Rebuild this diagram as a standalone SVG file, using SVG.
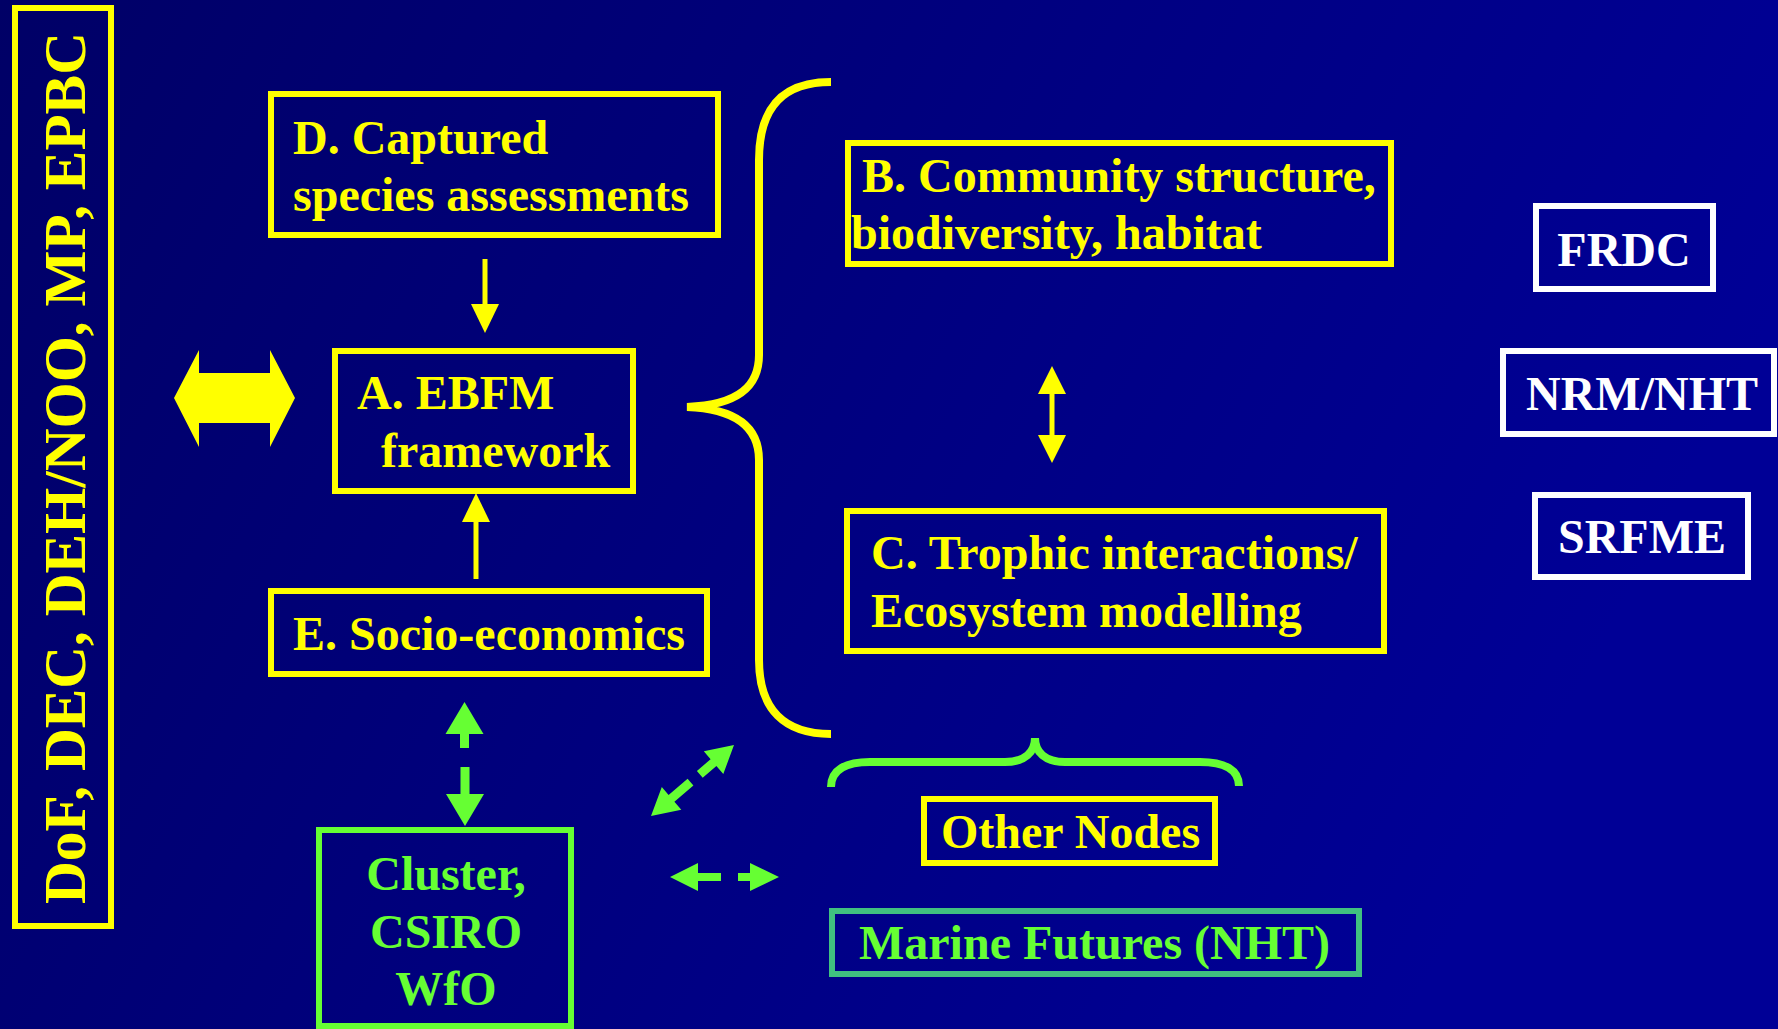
<svg xmlns="http://www.w3.org/2000/svg" width="1778" height="1029" viewBox="0 0 1778 1029">
<defs>
<linearGradient id="bg" x1="0" y1="0" x2="1" y2="0.3">
<stop offset="0" stop-color="#000066"/>
<stop offset="1" stop-color="#000096"/>
</linearGradient>
</defs>
<style>
.t{font-family:"Liberation Serif","Times New Roman",serif;font-weight:bold;font-size:48px}
.y{fill:#ffff00}
.g{fill:#66ff33}
.w{fill:#ffffff}
.by{fill:none;stroke:#ffff00;stroke-width:6}
.bg{fill:none;stroke:#66ff33;stroke-width:6}
.bw{fill:none;stroke:#ffffff;stroke-width:6}
.bt{fill:none;stroke:#40c080;stroke-width:6}
</style>
<rect x="0" y="0" width="1778" height="1029" fill="url(#bg)"/>

<g id="agencies">
<rect class="by" x="15" y="8" width="96" height="918"/>
<text class="t y" font-size="59" style="font-size:59px" transform="translate(85,904) rotate(-90)" textLength="872" lengthAdjust="spacingAndGlyphs">DoF, DEC, DEH/NOO, MP, EPBC</text>
</g>

<g id="nodeD">
<rect class="by" x="271" y="94" width="447" height="141"/>
<text class="t y" x="293" y="154">D. Captured</text>
<text class="t y" x="293" y="211">species assessments</text>
</g>

<g id="nodeA">
<rect class="by" x="335" y="351" width="298" height="140"/>
<text class="t y" x="357" y="409">A. EBFM</text>
<text class="t y" x="381" y="467">framework</text>
</g>

<g id="nodeE">
<rect class="by" x="271" y="591" width="436" height="83"/>
<text class="t y" x="293" y="650">E. Socio-economics</text>
</g>

<g id="nodeB">
<rect class="by" x="848" y="143" width="543" height="121"/>
<text class="t y" x="862" y="192">B. Community structure,</text>
<text class="t y" x="851" y="249">biodiversity, habitat</text>
</g>

<g id="nodeC">
<rect class="by" x="847" y="511" width="537" height="140"/>
<text class="t y" x="871" y="569">C. Trophic interactions/</text>
<text class="t y" x="871" y="627">Ecosystem modelling</text>
</g>

<g id="nodeFRDC">
<rect class="bw" x="1536" y="206" width="177" height="83"/>
<text class="t w" x="1624" y="266" text-anchor="middle">FRDC</text>
</g>

<g id="nodeNRM">
<rect class="bw" x="1503" y="351" width="271" height="83"/>
<text class="t w" x="1526" y="410">NRM/NHT</text>
</g>

<g id="nodeSRFME">
<rect class="bw" x="1535" y="495" width="213" height="82"/>
<text class="t w" x="1558" y="553">SRFME</text>
</g>

<g id="nodeOther">
<rect class="by" x="924" y="799" width="291" height="64"/>
<text class="t y" x="941" y="848">Other Nodes</text>
</g>

<g id="nodeMarine">
<rect class="bt" x="832" y="911" width="527" height="63"/>
<text class="t g" x="859" y="959">Marine Futures (NHT)</text>
</g>

<g id="nodeCluster">
<rect class="bg" x="319" y="830" width="252" height="196"/>
<text class="t g" x="446" y="890" text-anchor="middle">Cluster,</text>
<text class="t g" x="446" y="948" text-anchor="middle">CSIRO</text>
<text class="t g" x="446" y="1005" text-anchor="middle">WfO</text>
</g>

<g id="connectors">
<!-- big left double arrow -->
<polygon fill="#ffff00" points="174,398 199,350 199,373 270,373 270,350 295,398 270,447 270,423 199,423 199,447"/>
<!-- D -> A -->
<line x1="485" y1="259" x2="485" y2="306" stroke="#ffff00" stroke-width="5"/>
<polygon fill="#ffff00" points="471,304 499,304 485,333"/>
<!-- E -> A -->
<line x1="476" y1="579" x2="476" y2="520" stroke="#ffff00" stroke-width="5"/>
<polygon fill="#ffff00" points="462,522 490,522 476,493"/>
<!-- B <-> C -->
<line x1="1052" y1="390" x2="1052" y2="438" stroke="#ffff00" stroke-width="5"/>
<polygon fill="#ffff00" points="1052,366 1066,394 1038,394"/>
<polygon fill="#ffff00" points="1052,463 1066,435 1038,435"/>
<!-- big brace -->
<path d="M 831,82 C 785,82 759,105 759,160 L 759,355 C 759,385 740,405 687,407 C 740,409 759,430 759,460 L 759,660 C 759,710 785,734 831,734" fill="none" stroke="#ffff00" stroke-width="8"/>
<!-- green brace -->
<path d="M 831,787 C 831,770 845,762 870,762 L 1005,762 C 1025,762 1035,752 1035,738 C 1035,752 1045,762 1065,762 L 1200,762 C 1225,762 1239,770 1239,786" fill="none" stroke="#66ff33" stroke-width="8"/>
<!-- E <-> Cluster (dashed green) -->
<polygon fill="#66ff33" points="464.5,702 483.5,734 469,734 469,748 460,748 460,734 445.5,734"/>
<polygon fill="#66ff33" points="465,826 484,794 469.5,794 469.5,767 460.5,767 460.5,794 446,794"/>
<!-- diagonal green -->
<polygon fill="#66ff33" points="651,816 661.8,787 668.6,795 687.6,778.8 693.4,785.6 674.4,801.8 681.3,809.8"/>
<polygon fill="#66ff33" points="734,745 723.3,774 716.4,766 702.7,777.7 696.9,770.9 710.6,759.2 703.8,751.2"/>
<!-- horizontal green -->
<polygon fill="#66ff33" points="670,877 698,863 698,873 721,873 721,881 698,881 698,891"/>
<polygon fill="#66ff33" points="779,877 750,863 750,873 738,873 738,881 750,881 750,891"/>
</g>
</svg>
